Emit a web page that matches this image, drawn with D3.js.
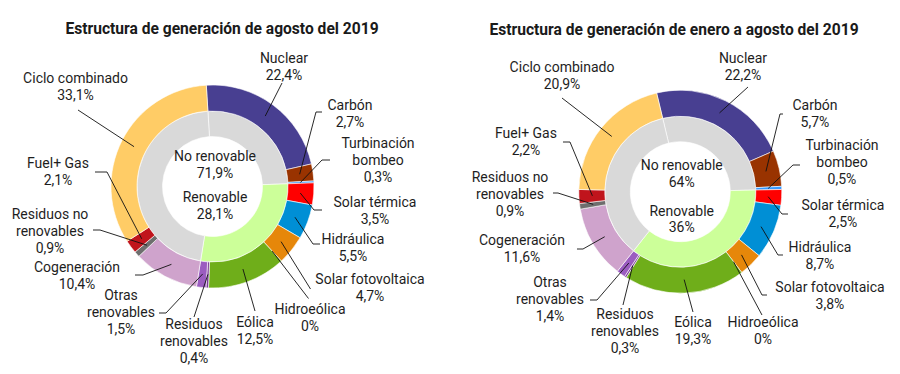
<!DOCTYPE html>
<html>
<head>
<meta charset="utf-8">
<script src="https://cdn.jsdelivr.net/npm/d3@7"></script>
<style>
  body { margin: 0; background: #fff; }
  svg { display: block; font-family: Roboto, "Noto Sans", sans-serif; }
  .title { font-weight: bold; font-size: 15.6px; fill: #1a1a1a; }
  .lbl { font-size: 14px; fill: #1e1e1e; }
  .leader { fill: none; stroke: #111; stroke-width: 0.9px; }
</style>
</head>
<body>
<svg width="900" height="374"></svg>
<script>
// categorias en el orden del anillo exterior (sentido horario desde arriba)
var categorias = ["Nuclear", "Carbón", "Turbinación bombeo", "Solar térmica", "Hidráulica",
  "Solar fotovoltaica", "Hidroeólica", "Eólica", "Residuos renovables", "Otras renovables",
  "Cogeneración", "Residuos no renovables", "Fuel+ Gas", "Ciclo combinado"];
var etiquetas = [["Nuclear"], ["Carbón"], ["Turbinación", "bombeo"], ["Solar térmica"], ["Hidráulica"],
  ["Solar fotovoltaica"], ["Hidroeólica"], ["Eólica"], ["Residuos", "renovables"], ["Otras", "renovables"],
  ["Cogeneración"], ["Residuos no", "renovables"], ["Fuel+ Gas"], ["Ciclo combinado"]];
var esRenovable = [false, false, false, true, true, true, true, true, true, true, false, false, false, false];
var agosto = [22.4, 2.7, 0.3, 3.5, 5.5, 4.7, 0, 12.5, 0.4, 1.5, 10.4, 0.9, 2.1, 33.1];
var eneroAgosto = [22.2, 5.7, 0.5, 2.5, 8.7, 3.8, 0, 19.3, 0.3, 1.4, 11.6, 0.9, 2.2, 20.9];
var grupos = ["No renovable", "Renovable"];
var titulos = ["Estructura de generación de agosto del 2019",
  "Estructura de generación de enero a agosto del 2019"];

var colores = ["#483f91", "#993300", "#3399ff", "#ff0000", "#008fd5", "#e6870a", "#5b8f22",
  "#6fae1a", "#7d3c98", "#9b5cc0", "#cfa3cc", "#6e6e6e", "#c0141c", "#ffcc66"];
var coloresGrupo = { "No renovable": "#d9d9d9", "Renovable": "#ccff99" };

// posiciones de las etiquetas relativas al centro: texto, inicio de guia, codo
var layouts = [
  {
    cx: 212.5, cy: 186.5, start: -3.5, title: [222, 34],
    center: [[2.5, -26, -9], [2.5, 15.5, 32.5]],
    labels: [
      [71.5, -123.5, [69.5, -103.5]],
      [137.5, -76.5, [109.5, -74.5], [103.5, -74.5]],
      [165.5, -38.5, [117.5, -26.5], [109.5, -26.5]],
      [162.5, 20.5, [109.5, 23.5], [101.5, 23.5]],
      [140.5, 57.5, [107.5, 57.5], [100.5, 57.5]],
      [157.5, 97.5, [98, 102.5]],
      [97.5, 127.5, [96, 112]],
      [42.5, 140.5, [42.5, 124.5]],
      [-18.5, 142.5, [-18.5, 130.5]],
      [-91.5, 113.5, [-53.5, 126.5], [-46.5, 126.5]],
      [-135.5, 85.5, [-77.5, 88.5], [-69.5, 88.5]],
      [-162.5, 32.5, [-119.5, 43.5], [-112.5, 43.5]],
      [-154.5, -18.5, [-117.5, -14.5], [-105.5, -14.5]],
      [-137, -103.5, [-134.5, -76.5]]
    ]
  },
  {
    cx: 680.3, cy: 191.7, start: -13.5, title: [674, 35],
    center: [[1.4, -21.7, -5], [1.4, 24, 40.3]],
    labels: [
      [62.7, -128.7, [67.7, -104.7]],
      [134.7, -81.7, [102.7, -77.7], [99.7, -77.7]],
      [161.7, -41.7, [119.7, -26.7], [112.7, -26.7]],
      [162.7, 18.3, [107.7, 22.3], [101.7, 22.3]],
      [139.7, 60.3, [102.7, 63.3], [97.7, 63.3]],
      [149.7, 100.3, [86.7, 103.3], [81.7, 103.3]],
      [82.7, 135.3, [81.7, 123.3]],
      [12.7, 135.3, [12.7, 120.3]],
      [-55.3, 127.3, [-57.3, 113.3]],
      [-130.3, 95.3, [-90.3, 108.3], [-83.3, 108.3]],
      [-158.3, 53.3, [-103.3, 57.3], [-97.3, 57.3]],
      [-170.3, -9.7, [-127.3, 1.3], [-122.3, 1.3]],
      [-154.3, -53.7, [-117.3, -49.7], [-110.3, -49.7]],
      [-118.3, -119.7, [-118.3, -93.7]]
    ]
  }
];

var svg = d3.select("svg");
var rHole = 50, rMid = 75.5, rOuter = 101.5, lineH = 17;

function pct(v) {
  return String(Math.round(v * 10) / 10).replace(".", ",") + "%";
}

function drawChart(valores, lay, titulo) {
  var g = svg.append("g").attr("transform", "translate(" + lay.cx + "," + lay.cy + ")");

  svg.append("text").attr("class", "title")
    .attr("x", lay.title[0]).attr("y", lay.title[1])
    .attr("text-anchor", "middle").text(titulo);

  var a0 = lay.start * Math.PI / 180;
  var pie = d3.pie().sort(null).startAngle(a0).endAngle(a0 + 2 * Math.PI);
  var datos = categorias.map(function(c, i) {
    return { name: c, value: valores[i], ren: esRenovable[i], lines: etiquetas[i], color: colores[i], lab: lay.labels[i] };
  });
  var arcs = pie.value(function(d) { return d.value; })(datos);

  // anillo interior: tramos consecutivos del mismo grupo
  var tramos = [];
  arcs.forEach(function(a) {
    var grp = a.data.ren ? grupos[1] : grupos[0];
    var last = tramos[tramos.length - 1];
    if (last && last.grp === grp) last.endAngle = a.endAngle;
    else tramos.push({ grp: grp, startAngle: a.startAngle, endAngle: a.endAngle });
  });

  var arcIn = d3.arc().innerRadius(rHole).outerRadius(rMid);
  var arcOut = d3.arc().innerRadius(rMid).outerRadius(rOuter);
  var arcMidOut = d3.arc().innerRadius(88).outerRadius(88);

  g.selectAll(".in").data(tramos).enter().append("path")
    .attr("d", arcIn)
    .style("fill", function(d) { return coloresGrupo[d.grp]; })
    .style("stroke", "#fff").style("stroke-width", "0.6px");

  g.selectAll(".out").data(arcs.filter(function(a) { return a.value > 0; })).enter().append("path")
    .attr("d", arcOut)
    .style("fill", function(d) { return d.data.color; })
    .style("stroke", "#fff").style("stroke-width", "0.6px");

  // totales por grupo en el centro
  var totales = grupos.map(function(gr, k) {
    return d3.sum(datos.filter(function(d) { return d.ren === (k === 1); }), function(d) { return d.value; });
  });
  grupos.forEach(function(gr, k) {
    var c = lay.center[k];
    g.append("text").attr("class", "lbl").attr("text-anchor", "middle")
      .attr("x", c[0]).attr("y", c[1]).text(gr);
    g.append("text").attr("class", "lbl").attr("text-anchor", "middle")
      .attr("x", c[0]).attr("y", c[2]).text(pct(totales[k]));
  });

  // guias
  g.selectAll(".leader").data(arcs).enter().append("polyline")
    .attr("class", "leader")
    .attr("points", function(d) {
      var pts = d.data.lab.slice(2);
      pts.push(arcMidOut.centroid(d));
      return pts.map(function(p) { return p.join(","); }).join(" ");
    });

  // etiquetas
  var lbl = g.selectAll(".slabel").data(arcs).enter().append("text")
    .attr("class", "lbl").attr("text-anchor", "middle");
  lbl.each(function(d) {
    var t = d3.select(this);
    var lines = d.data.lines.concat([pct(d.data.value)]);
    lines.forEach(function(s, i) {
      t.append("tspan").attr("x", d.data.lab[0]).attr("y", d.data.lab[1] + i * lineH).text(s);
    });
  });
}

drawChart(agosto, layouts[0], titulos[0]);
drawChart(eneroAgosto, layouts[1], titulos[1]);
</script>
</body>
</html>
